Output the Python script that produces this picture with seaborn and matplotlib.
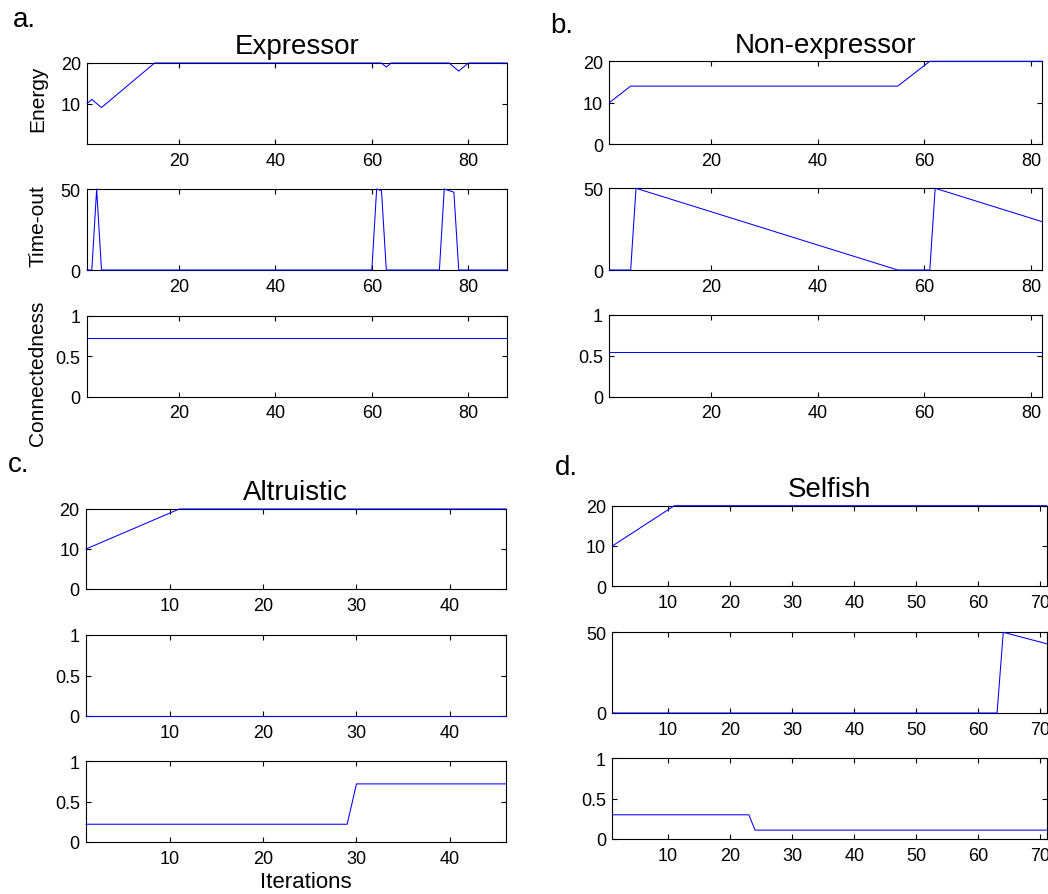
import matplotlib
matplotlib.use("Agg")
import matplotlib.pyplot as plt
import seaborn as sns
import pandas as pd

# ---- data: iteration breakpoints and the values at those iterations ----
# a. Expressor (iterations 1..88)
expr_energy_it = [1, 2, 4, 15, 62, 63, 64, 76, 78, 80, 88]
expr_energy = [10, 11, 9, 20, 20, 19, 20, 20, 18, 20, 20]
expr_timeout_it = [1, 2, 3, 4, 60, 61, 62, 63, 74, 75, 76, 77, 78, 88]
expr_timeout = [0, 0, 50, 0, 0, 50, 49, 0, 0, 50, 49, 48, 0, 0]
expr_conn_it = [1, 88]
expr_conn = [0.72, 0.72]

# b. Non-expressor (iterations 1..82)
nonexpr_energy_it = [1, 5, 55, 61, 82]
nonexpr_energy = [10, 14, 14, 20, 20]
nonexpr_timeout_it = [1, 5, 6, 55, 61, 62, 82]
nonexpr_timeout = [0, 0, 50, 0, 0, 50, 29.6]
nonexpr_conn_it = [1, 82]
nonexpr_conn = [0.55, 0.55]

# c. Altruistic (iterations 1..46)
altr_energy_it = [1, 11, 46]
altr_energy = [10, 20, 20]
altr_timeout_it = [1, 46]
altr_timeout = [0, 0]
altr_conn_it = [1, 29, 30, 46]
altr_conn = [0.22, 0.22, 0.72, 0.72]

# d. Selfish (iterations 1..71)
self_energy_it = [1, 11, 71]
self_energy = [10, 20, 20]
self_timeout_it = [1, 63, 64, 71]
self_timeout = [0, 0, 50, 42.9]
self_conn_it = [1, 23, 24, 71]
self_conn = [0.3, 0.3, 0.11, 0.11]

panel_titles = ["Expressor", "Non-expressor", "Altruistic", "Selfish"]
panel_letters = ["a.", "b.", "c.", "d."]
row_labels = ["Energy", "Time-out", "Connectedness"]

sns.set_theme(style="white")
plt.rcParams["font.family"] = ["Liberation Sans", "DejaVu Sans"]

W, H = 1048, 895
fig = plt.figure(figsize=(W / 100, H / 100), dpi=100)


def add_ax(l, t, r, b):
    return fig.add_axes([l / W, 1 - b / H, (r - l) / W, (b - t) / H])


def style(ax, xlim, xticks, ylim, yticks, yticklabels=None):
    ax.set_xlim(*xlim)
    ax.set_ylim(*ylim)
    ax.set_xticks(xticks)
    ax.set_yticks(yticks)
    if yticklabels is not None:
        ax.set_yticklabels(yticklabels)
    ax.set_xlabel("")
    ax.set_ylabel("")
    ax.tick_params(direction="in", top=True, right=True, bottom=True, left=True,
                   length=3.5, width=0.8, color="black", labelsize=13,
                   labelcolor="black")
    ax.tick_params(axis="x", pad=5.5)
    ax.tick_params(axis="y", pad=4.5)
    for s in ax.spines.values():
        s.set_visible(True)
        s.set_color("black")
        s.set_linewidth(0.8)
        s.set_zorder(2)
    ax.set_facecolor("white")


def draw(ax, it, vals):
    df = pd.DataFrame({"Iteration": it, "value": vals})
    sns.lineplot(data=df, x="Iteration", y="value", ax=ax, color="blue",
                 linewidth=0.75, estimator=None, sort=False, zorder=3)
    for ln in ax.lines:
        ln.set_clip_on(False)


panels = [
    dict(cols=(87, 507), rows=[(64, 145), (190, 271), (316.7, 397.7)],
         xlim=(1, 88), xticks=[20, 40, 60, 80],
         series=[(expr_energy_it, expr_energy), (expr_timeout_it, expr_timeout),
                 (expr_conn_it, expr_conn)],
         ylims=[((0, 20), [10, 20]), ((0, 50), [0, 50]), ((0, 1), [0, 0.5, 1])]),
    dict(cols=(609.3, 1042), rows=[(62.3, 145), (189.3, 271), (315.7, 397.7)],
         xlim=(1, 82), xticks=[20, 40, 60, 80],
         series=[(nonexpr_energy_it, nonexpr_energy), (nonexpr_timeout_it, nonexpr_timeout),
                 (nonexpr_conn_it, nonexpr_conn)],
         ylims=[((0, 20), [0, 10, 20]), ((0, 50), [0, 50]), ((0, 1), [0, 0.5, 1])]),
    dict(cols=(86, 505.7), rows=[(510, 590), (636, 717), (762.3, 843)],
         xlim=(1, 46), xticks=[10, 20, 30, 40],
         series=[(altr_energy_it, altr_energy), (altr_timeout_it, altr_timeout),
                 (altr_conn_it, altr_conn)],
         ylims=[((0, 20), [0, 10, 20]), ((0, 1), [0, 0.5, 1]), ((0, 1), [0, 0.5, 1])]),
    dict(cols=(612.3, 1046.7), rows=[(506.7, 587.3), (633.3, 714), (759.3, 840)],
         xlim=(1, 71), xticks=[10, 20, 30, 40, 50, 60, 70],
         series=[(self_energy_it, self_energy), (self_timeout_it, self_timeout),
                 (self_conn_it, self_conn)],
         ylims=[((0, 20), [0, 10, 20]), ((0, 50), [0, 50]), ((0, 1), [0, 0.5, 1])]),
]


def fmt(v):
    return "0.5" if v == 0.5 else str(int(v))


for p_i, p in enumerate(panels):
    l, r = p["cols"]
    for k, ((t, b), (it, vals), (yl, yt)) in enumerate(zip(p["rows"], p["series"], p["ylims"])):
        ax = add_ax(l, t, r, b)
        draw(ax, it, vals)
        style(ax, p["xlim"], p["xticks"], yl, yt, [fmt(v) for v in yt])
        if k == 0:
            ax.set_title(panel_titles[p_i], fontsize=20, pad=7, color="black")
        if p_i == 0:
            # row labels sit left of the tick labels of panel a
            centers = [98.5, 226, 373]
            fig.text(38 / W, 1 - centers[k] / H, row_labels[k], rotation=90,
                     ha="center", va="center", fontsize=15, color="black")

# panel letters
letter_pos = [(13, 27), (550, 33), (8, 472), (555, 475)]
for (x, y), s in zip(letter_pos, panel_letters):
    fig.text(x / W, 1 - y / H, s, fontsize=20, ha="left", va="baseline", color="black")

fig.text(306 / W, 1 - 888 / H, "Iterations", fontsize=16, ha="center",
         va="baseline", color="black")

fig.savefig("out.png", dpi=100, facecolor="white")
